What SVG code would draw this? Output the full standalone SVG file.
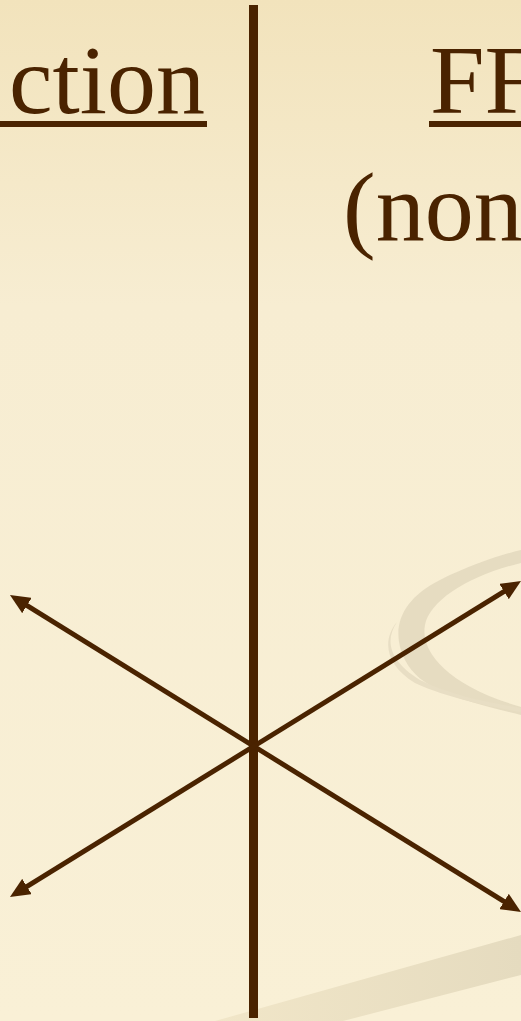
<svg xmlns="http://www.w3.org/2000/svg" width="521" height="1021" viewBox="0 0 521 1021">
<defs>
<linearGradient id="bg" x1="0" y1="0" x2="0" y2="1">
<stop offset="0" stop-color="#f2e3bc"/>
<stop offset="0.3" stop-color="#f7edd2"/>
<stop offset="1" stop-color="#f9f0d6"/>
</linearGradient>
<linearGradient id="band" x1="0" y1="0" x2="1" y2="0">
<stop offset="0" stop-color="#f1e6c8"/>
<stop offset="1" stop-color="#e5dbbf"/>
</linearGradient>
<marker id="ah" viewBox="0 0 20 18" refX="5" refY="9" markerWidth="20" markerHeight="18" markerUnits="userSpaceOnUse" orient="auto-start-reverse">
<path d="M0,0 L20,9 L0,18 Z" fill="#4a2300"/>
</marker>
<style>
.t{font-family:"Liberation Serif","Times New Roman",serif;font-size:98px;fill:#4a2300}
.ul{fill:#4a2300}
.c{stroke:#4a2300;stroke-width:5;fill:none}
</style>
</defs>
<rect width="521" height="1021" fill="url(#bg)"/>
<g id="decor">
<path d="M521,563 C470,575 430,600 425,625 C420,650 445,685 521,707 L521,715 C460,700 420,690 405,660 C390,630 400,600 440,580 C470,565 500,555 521,550 Z" fill="#e3d9bf" opacity="0.9"/>
<path d="M397,622 C385,640 388,660 420,680 C450,695 490,703 521,708 L521,712 C480,705 440,695 415,683 C385,665 382,640 397,622 Z" fill="#e8dec4"/>
<path d="M215,1021 L521,935 L521,975 L343,1021 Z" fill="url(#band)"/>
</g>
<g id="title-left">
<text class="t" x="205" y="113" text-anchor="end">ction</text>
<rect class="ul" x="0" y="121" width="207" height="6"/>
</g>
<g id="title-right">
<text class="t" x="430" y="113">FF</text>
<rect class="ul" x="429" y="121" width="92" height="6"/>
<text class="t" x="343" y="240">(non</text>
</g>
<g id="connectors">
<line class="c" x1="253.5" y1="5" x2="253.5" y2="1018" style="stroke-width:9"/>
<line class="c" x1="22.7" y1="602.9" x2="508.3" y2="904.1" marker-start="url(#ah)" marker-end="url(#ah)"/>
<line class="c" x1="22.7" y1="889.1" x2="508.3" y2="588.9" marker-start="url(#ah)" marker-end="url(#ah)"/>
</g>
</svg>
